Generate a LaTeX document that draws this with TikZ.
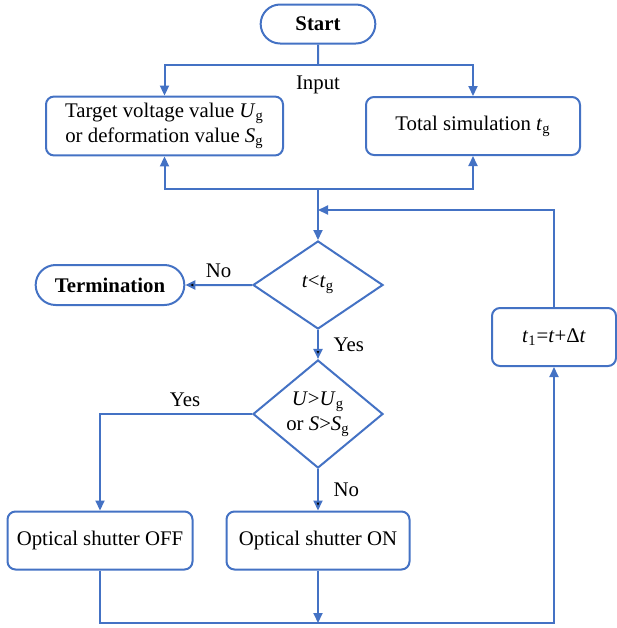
\documentclass[tikz,border=0pt]{standalone}
\usepackage{fontspec}
\setmainfont{Liberation Serif}
\usetikzlibrary{positioning,shapes.geometric,shapes.misc,arrows.meta}
\definecolor{flowblue}{RGB}{68,114,196}

\begin{document}
\begin{tikzpicture}[>={Triangle[length=5pt, width=4.5pt]}, on grid, line width=1pt,
  font=\fontsize{10.4}{12.5}\selectfont,
  every text node part/.style={align=center},
  terminal/.style={rounded rectangle, draw=flowblue, minimum width=64pt, minimum height=19.5pt, font=\fontsize{10.4}{12.5}\selectfont\bfseries},
  process/.style={rectangle, rounded corners=4pt, draw=flowblue, minimum height=29pt},
  decision/.style={diamond, draw=flowblue, minimum width=65pt, minimum height=44pt, inner sep=0pt},
  link/.style={draw=flowblue}]
	\useasboundingbox (0,0) rectangle (308.5pt,-314pt);
	\node[terminal] (start) at (159pt,-12pt) {Start};
	\node[process, minimum width=118.5pt] (target) [below left = 51pt and 76.75pt of start] {Target voltage value \textit{U}\textsubscript{g}\\or deformation value \textit{S}\textsubscript{g}};
	\node[process, minimum width=107pt] (total) [below right = 51pt and 77.5pt of start] {Total simulation \textit{t}\textsubscript{g}};
	\node[decision] (lt) [below = 130.5pt of start] {\textit{t}<\textit{t}\textsubscript{g}};
	\node[terminal, minimum width=81pt, minimum height=20pt] (term) [left = 104pt of lt] {Termination};
	\node[decision] (cmp) [below = 64.5pt of lt] {\textit{U}>\textit{U}\textsubscript{g}\\or \textit{S}>\textit{S}\textsubscript{g}};
	\node[process, minimum width=91.5pt] (on) [below = 63.25pt of cmp] {Optical shutter ON};
	\node[process, minimum width=92.5pt] (off) [left = 109pt of on] {Optical shutter OFF};
	\node[process, minimum width=62pt] (inc) [below right = 26pt and 118pt of lt] {\textit{t}\textsubscript{1}=\textit{t}+Δ\textit{t}};
	% junction points
	\coordinate[below = 10.25pt of start.south] (split);
	\coordinate[below = 82.5pt of start] (merge);
	\coordinate[below = 93pt of start] (join);
	\coordinate[below = 41.25pt of on] (onend);
	\coordinate (back) at (inc |- onend);
	\node (input) at (159pt,-42.5pt) {Input};
	% input
	\draw[link] (start) -- (split);
	\draw[link, ->] (split) -| (target);
	\draw[link, ->] (split) -| (total);
	\draw[link, ->] (merge) -| (target);
	\draw[link, ->] (merge) -| (total);
	\draw[link] (merge) -- (join);
	\draw[link, ->] (join) -- (lt);
	\draw[link, ->] (inc) |- (join);
	% decisions
	\path[link, ->] (lt) edge node[above] {No} (term);
	\path[link, ->] (lt) edge node[right = 4pt] {Yes} (cmp);
	\draw[link, ->] (cmp) -| node[pos = 0.22, above] {Yes} (off);
	\path[link, ->] (cmp) edge node[right = 4pt] {No} (on);
	% loop back
	\draw[link, ->] (on) -- (onend);
	\draw[link, ->] (off) |- (back) -- (inc);
\end{tikzpicture}
\end{document}
